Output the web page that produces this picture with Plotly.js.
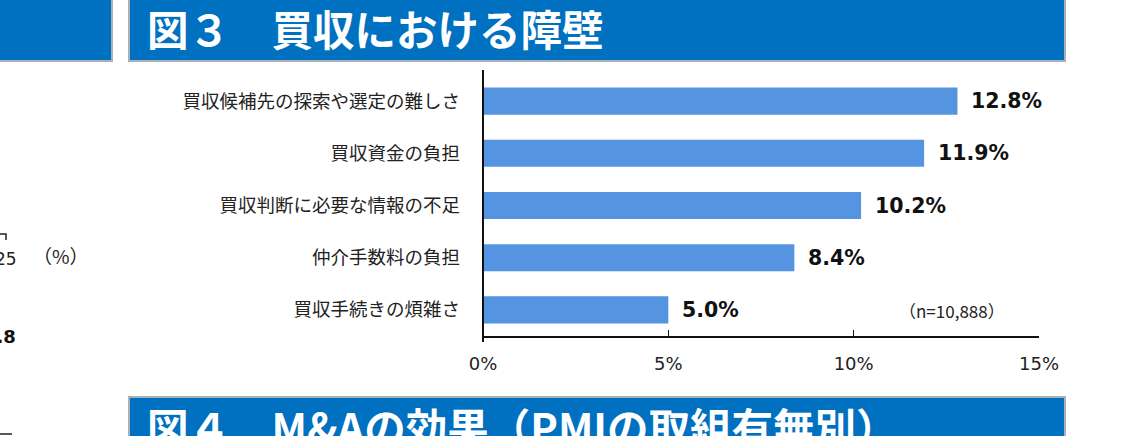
<!DOCTYPE html>
<html>
<head>
<meta charset="utf-8">
<script src="https://cdn.plot.ly/plotly-3.0.1.min.js"></script>
<style>
  html, body { margin: 0; padding: 0; background: #fff; }
  #plot { width: 1130px; height: 436px; }
</style>
</head>
<body>
<div id="plot"></div>
<script>
// 図３ 買収における障壁 (n=10,888)
const categories = [
    '買収候補先の探索や選定の難しさ',
    '買収資金の負担',
    '買収判断に必要な情報の不足',
    '仲介手数料の負担',
    '買収手続きの煩雑さ'
];
const shares = [12.8, 11.9, 10.2, 8.4, 5.0];
const xTicks = [0, 5, 10, 15];
const xTickLabels = ['0%', '5%', '10%', '15%'];

const W = 1130, H = 436;
// pixel -> paper helpers
function px(x) { return x / W; }
function py(y) { return 1 - y / H; }

const barColor = '#5494e0';
const headBlue = '#0070c0';
const edgeGray = '#a9b0b8';

const traces = [{
    type: 'bar',
    orientation: 'h',
    x: shares,
    y: categories,
    marker: { color: barColor },
    hoverinfo: 'none'
}];

// value labels next to each bar
const annotations = shares.map((v, i) => ({
    x: v,
    y: categories[i],
    xref: 'x',
    yref: 'y',
    xanchor: 'left',
    yanchor: 'middle',
    xshift: 12,
    showarrow: false,
    text: v.toFixed(1) + '%',
    font: { family: 'DejaVu Sans, Verdana, sans-serif', size: 20.5, color: '#111', weight: 'bold' }
}));

annotations.push({
    x: px(1007), y: py(310), xref: 'paper', yref: 'paper',
    xanchor: 'right', yanchor: 'middle', showarrow: false,
    text: '（n=10,888）',
    font: { family: 'Noto Sans CJK JP, sans-serif', size: 17, color: '#222' }
});

// header bars text
annotations.push({
    x: px(145), y: py(28), xref: 'paper', yref: 'paper',
    xanchor: 'left', yanchor: 'middle', showarrow: false,
    text: '図３　買収における障壁',
    font: { family: 'Noto Sans CJK JP, sans-serif', size: 41.5, color: '#fff', weight: 'bold' }
});
annotations.push({
    x: px(145), y: py(426), xref: 'paper', yref: 'paper',
    xanchor: 'left', yanchor: 'middle', showarrow: false,
    text: '図４　M&Aの効果（PMIの取組有無別）',
    font: { family: 'Noto Sans CJK JP, sans-serif', size: 41.5, color: '#fff', weight: 'bold' }
});

// bits of the neighbouring chart cut off on the left
annotations.push({
    x: px(19), y: py(259), xref: 'paper', yref: 'paper',
    xanchor: 'right', yanchor: 'middle', showarrow: false,
    text: '25',
    font: { family: 'DejaVu Sans, sans-serif', size: 17, color: '#222' }
});
annotations.push({
    x: px(31), y: py(255), xref: 'paper', yref: 'paper',
    xanchor: 'left', yanchor: 'middle', showarrow: false,
    text: '（%）',
    font: { family: 'Noto Sans CJK JP, sans-serif', size: 19, color: '#222' }
});
annotations.push({
    x: px(18), y: py(336), xref: 'paper', yref: 'paper',
    xanchor: 'right', yanchor: 'middle', showarrow: false,
    text: '1.8',
    font: { family: 'DejaVu Sans, sans-serif', size: 18, color: '#111', weight: 'bold' }
});

const shapes = [
    // left neighbour header
    { type: 'rect', xref: 'paper', yref: 'paper', x0: px(-5), x1: px(112), y0: py(61), y1: py(-5),
      fillcolor: headBlue, line: { color: edgeGray, width: 2 }, layer: 'below' },
    // figure 3 header
    { type: 'rect', xref: 'paper', yref: 'paper', x0: px(129), x1: px(1065), y0: py(61), y1: py(-5),
      fillcolor: headBlue, line: { color: edgeGray, width: 2 }, layer: 'below' },
    // figure 4 header
    { type: 'rect', xref: 'paper', yref: 'paper', x0: px(129), x1: px(1065), y0: py(445), y1: py(397),
      fillcolor: headBlue, line: { color: edgeGray, width: 2 }, layer: 'below' },
    // left neighbour axis fragments
    { type: 'path', xref: 'paper', yref: 'paper',
      path: 'M 0 ' + py(234) + ' L ' + px(6) + ' ' + py(234) + ' L ' + px(6) + ' ' + py(240),
      line: { color: '#222', width: 1.5 } },
    { type: 'line', xref: 'paper', yref: 'paper', x0: 0, x1: px(12), y0: py(434), y1: py(434),
      line: { color: '#222', width: 1.5 } },
    // y axis line runs a little below the x axis
    { type: 'line', xref: 'paper', yref: 'paper', x0: px(483), x1: px(483), y0: py(342), y1: py(70),
      line: { color: '#111', width: 2 } }
];

const layout = {
    width: W,
    height: H,
    margin: { l: 0, r: 0, t: 0, b: 0 },
    paper_bgcolor: '#fff',
    plot_bgcolor: '#fff',
    showlegend: false,
    bargap: 0.48,
    xaxis: {
        domain: [px(483), px(1039)],
        range: [0, 15],
        tickvals: xTicks,
        ticktext: xTickLabels,
        ticks: 'inside',
        ticklen: 6,
        tickwidth: 1.5,
        tickcolor: '#111',
        showline: true,
        linecolor: '#111',
        linewidth: 2,
        showgrid: false,
        zeroline: false,
        fixedrange: true,
        ticklabelstandoff: 10,
        tickfont: { family: 'DejaVu Sans, Verdana, sans-serif', size: 18, color: '#222' }
    },
    yaxis: {
        domain: [py(336), py(75)],
        autorange: 'reversed',
        showline: false,
        showgrid: false,
        zeroline: false,
        ticks: '',
        fixedrange: true,
        ticklabelstandoff: 22,
        tickfont: { family: 'Noto Sans CJK JP, sans-serif', size: 18.5, color: '#222' }
    },
    annotations: annotations,
    shapes: shapes
};

Plotly.newPlot('plot', traces, layout, { displayModeBar: false, staticPlot: true });
</script>
</body>
</html>
